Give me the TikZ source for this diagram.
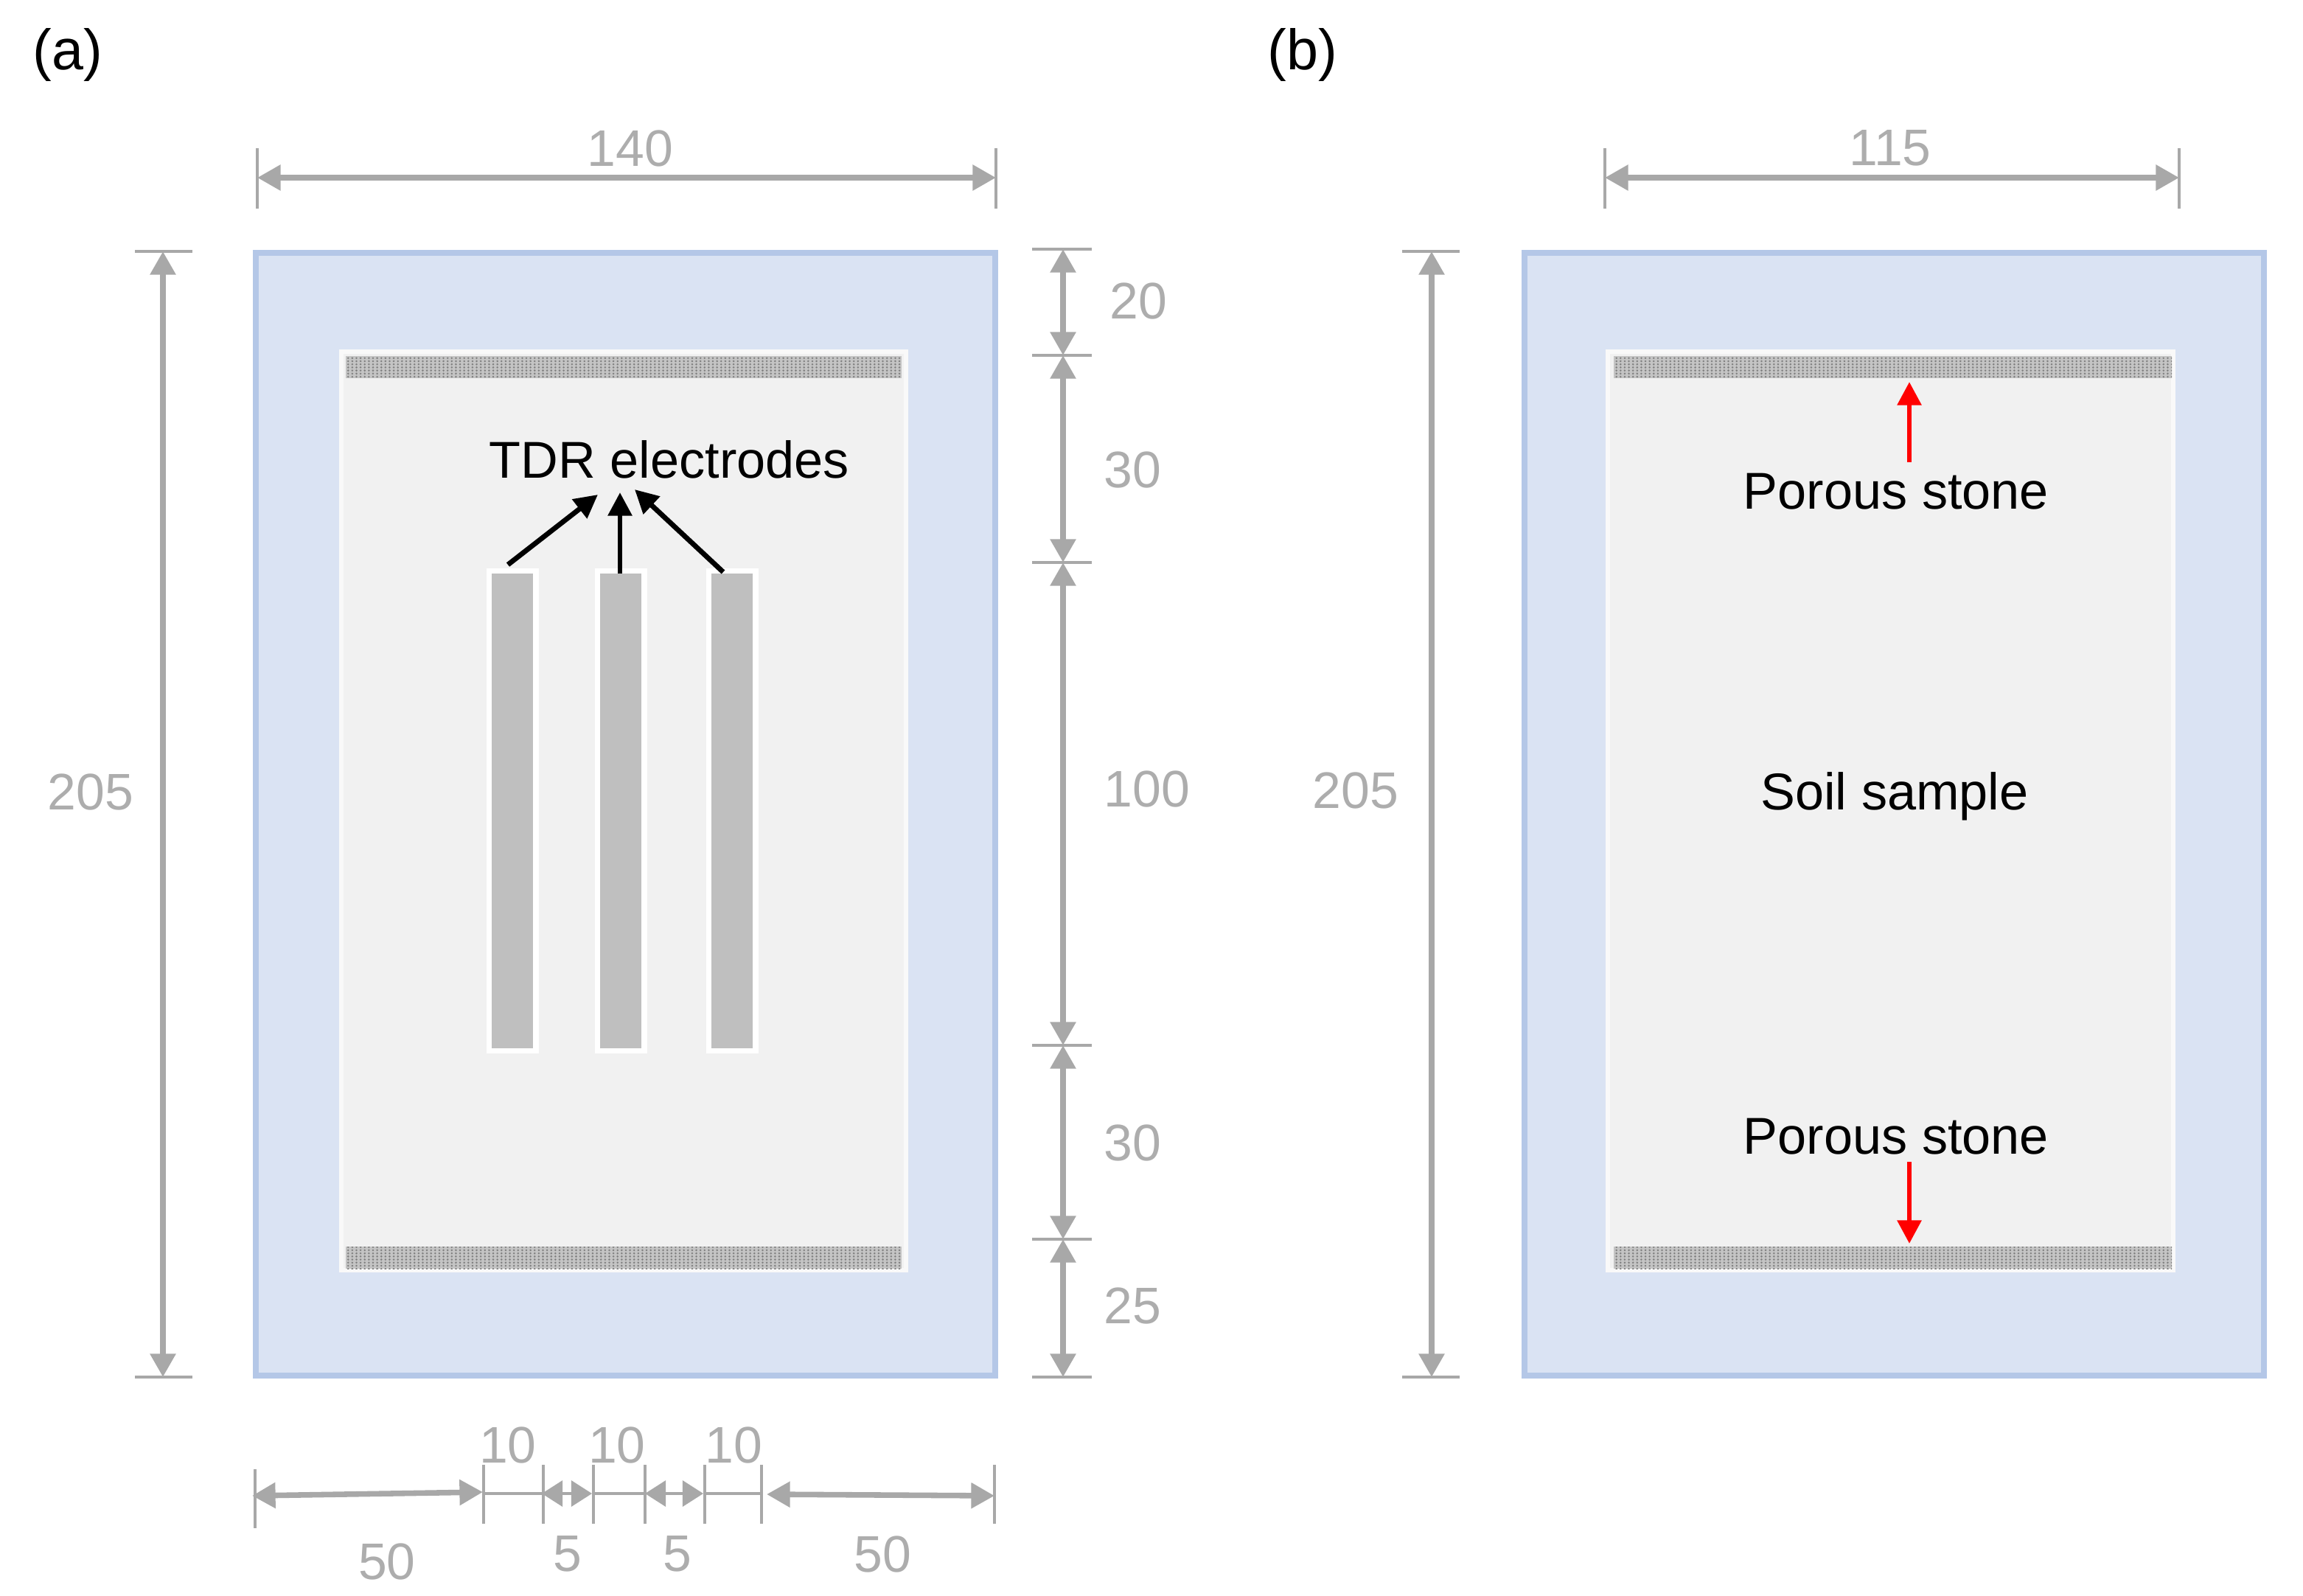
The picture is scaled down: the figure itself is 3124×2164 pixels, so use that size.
\documentclass[tikz,border=0pt]{standalone}
\usepackage{fontspec}
\setmainfont{Liberation Sans}
\usetikzlibrary{arrows.meta,patterns}
\definecolor{dimgray}{HTML}{A8A8A8}
\definecolor{dimtext}{HTML}{ADADAD}
\definecolor{boxfill}{HTML}{DAE3F3}
\definecolor{boxline}{HTML}{B4C7E7}
\definecolor{soil}{HTML}{F1F1F1}
\definecolor{stone}{HTML}{C4C4C4}
\definecolor{stonedot}{HTML}{808080}
\definecolor{elec}{HTML}{BFBFBF}
\pgfdeclarepatternformonly{stonedots}{\pgfqpoint{-1pt}{-1pt}}{\pgfqpoint{1pt}{1pt}}{\pgfqpoint{3.2pt}{2.4pt}}{%
  \pgfpathcircle{\pgfqpoint{0pt}{0pt}}{0.8pt}\pgfusepath{fill}}
\tikzset{
  x=0.02cm,y=-0.02cm,
  outerbox/.style={draw=boxline,fill=boxfill,line width=4.6pt},
  innerbox/.style={draw=white!55!soil,fill=soil,line width=3pt},
  stonebar/.style={fill=stone,postaction={pattern=stonedots,pattern color=stonedot}},
  electrode/.style={draw=white,fill=elec,line width=4.4pt,outer sep=0pt,inner sep=0pt,minimum width=36.3pt,minimum height=370.5pt,anchor=north west},
  dimarrow/.style={draw=dimgray,line width=4.3pt,{Triangle[length=18pt,width=19pt]}-{Triangle[length=18pt,width=19pt]}},
  smallarrow/.style={draw=dimgray,line width=1.8pt,{Triangle[length=16pt,width=20pt]}-{Triangle[length=16pt,width=20pt]}},
  tick/.style={draw=dimgray,line width=1.9pt},
  thin link/.style={draw=dimgray,line width=1.9pt},
  dimlabel/.style={text=dimtext,font=\fontsize{39.7}{46}\selectfont,inner sep=0pt},
  blacklabel/.style={text=black,font=\fontsize{40}{46}\selectfont,inner sep=0pt},
  panellabel/.style={text=black,font=\fontsize{44}{50}\selectfont,inner sep=0pt},
  pointer/.style={draw=black,line width=3.9pt,-{Triangle[length=18pt,width=18pt]}},
  redpointer/.style={draw=red,line width=3.9pt,-{Triangle[length=18pt,width=18pt]}},
}
\begin{document}
\begin{tikzpicture}
\useasboundingbox (0,0) rectangle (3124,2164);
% panel labels
\node[panellabel] (la) at (92,74) {(a)};
\node[panellabel] (lb) at (1767,74) {(b)};
% panel a
\draw[outerbox] (347,343) rectangle (1350,1866);
\draw[innerbox] (463,477) rectangle (1229,1723);
\fill[stonebar] (469,483) rectangle (1223,513);
\fill[stonebar] (469,1691) rectangle (1223,1721);
\node[electrode] (e1) at (663.5,774.5) {};
\node[electrode] (e2) at (810.5,774.5) {};
\node[electrode] (e3) at (961.5,774.5) {};
\node[blacklabel] (tdr) at (908,623) {TDR electrodes};
\coordinate (p1a) at (689,766); \coordinate (p1b) at (811,671);
\coordinate (p2a) at (841,778); \coordinate (p2b) at (841,668);
\coordinate (p3a) at (981,776); \coordinate (p3b) at (861,664);
\draw[pointer] (p1a) -- (p1b);
\draw[pointer] (p2a) -- (p2b);
\draw[pointer] (p3a) -- (p3b);
% top dim a
\coordinate (t1) at (349,241); \coordinate (t2) at (1351,241);
\draw[tick] (349,201) -- (349,283); \draw[tick] (1351,201) -- (1351,283);
\draw[dimarrow] (t1) -- (t2);
\node[dimlabel] (d140) at (855,201) {140};
% left dim a
\coordinate (l1) at (221,341); \coordinate (l2) at (221,1868);
\draw[tick] (183,341) -- (261,341); \draw[tick] (183,1868) -- (261,1868);
\draw[dimarrow] (l1) -- (l2);
\node[dimlabel] (d205a) at (123,1074) {205};
% right dims a
\foreach \n/\yy in {r0/338,r1/482,r2/763,r3/1418,r4/1681,r5/1868}{
  \coordinate (\n) at (1442,\yy);
  \draw[tick] (1400,\yy) -- (1481,\yy);
}
\draw[dimarrow] (r0) -- (r1);
\draw[dimarrow] (r1) -- (r2);
\draw[dimarrow] (r2) -- (r3);
\draw[dimarrow] (r3) -- (r4);
\draw[dimarrow] (r4) -- (r5);
\node[dimlabel] (d20) at (1544,408) {20};
\node[dimlabel] (d30a) at (1536,637) {30};
\node[dimlabel] (d100) at (1556,1070) {100};
\node[dimlabel] (d30b) at (1536,1550) {30};
\node[dimlabel] (d25) at (1536,1771) {25};
% bottom dims a
\draw[tick] (346,1993) -- (346,2073);
\draw[tick] (1349,1987) -- (1349,2067);
\foreach \xx in {656,737,805,875,956,1033}{
  \draw[tick] (\xx,1987) -- (\xx,2067);
}
\coordinate (b0) at (342,2029); \coordinate (b1) at (655,2024);
\coordinate (b2) at (1040,2027); \coordinate (b3) at (1349,2029);
\draw[dimarrow] (b0) -- (b1);
\draw[dimarrow] (b2) -- (b3);
\coordinate (c1) at (656,2026); \coordinate (c2) at (735,2026);
\coordinate (c3) at (803,2026); \coordinate (c4) at (875,2026);
\coordinate (c5) at (954,2026); \coordinate (c6) at (1033,2026);
\draw[thin link] (c1) -- (c2);
\draw[thin link] (c3) -- (c4);
\draw[thin link] (c5) -- (c6);
\draw[smallarrow] (c2) -- (c3);
\draw[smallarrow] (c4) -- (c5);
\node[dimlabel] (d10a) at (689,1960) {10};
\node[dimlabel] (d10b) at (837,1960) {10};
\node[dimlabel] (d10c) at (995,1960) {10};
\node[dimlabel] (d50a) at (525,2118) {50};
\node[dimlabel] (d5a) at (770,2108) {5};
\node[dimlabel] (d5b) at (919,2108) {5};
\node[dimlabel] (d50b) at (1197,2108) {50};
% panel b
\draw[outerbox] (2068,343) rectangle (3071,1866);
\draw[innerbox] (2181,477) rectangle (2948,1723);
\fill[stonebar] (2189,483) rectangle (2946,513);
\fill[stonebar] (2189,1691) rectangle (2946,1721);
\coordinate (tb1) at (2177,241); \coordinate (tb2) at (2956,241);
\draw[tick] (2177,201) -- (2177,283); \draw[tick] (2956,201) -- (2956,283);
\draw[dimarrow] (tb1) -- (tb2);
\node[dimlabel] (d115) at (2564,201) {115};
\coordinate (lb1) at (1942,341); \coordinate (lb2) at (1942,1868);
\draw[tick] (1902,341) -- (1980,341); \draw[tick] (1902,1868) -- (1980,1868);
\draw[dimarrow] (lb1) -- (lb2);
\node[dimlabel] (d205b) at (1839,1072) {205};
\node[blacklabel] (ps1) at (2572,667) {Porous stone};
\node[blacklabel] (ps2) at (2572,1542) {Porous stone};
\node[blacklabel] (ss) at (2570,1080) {Soil sample};
\coordinate (ra1) at (2590,627); \coordinate (ra2) at (2590,518);
\coordinate (rb1) at (2590,1576); \coordinate (rb2) at (2590,1687);
\draw[redpointer] (ra1) -- (ra2);
\draw[redpointer] (rb1) -- (rb2);
\end{tikzpicture}
\end{document}
